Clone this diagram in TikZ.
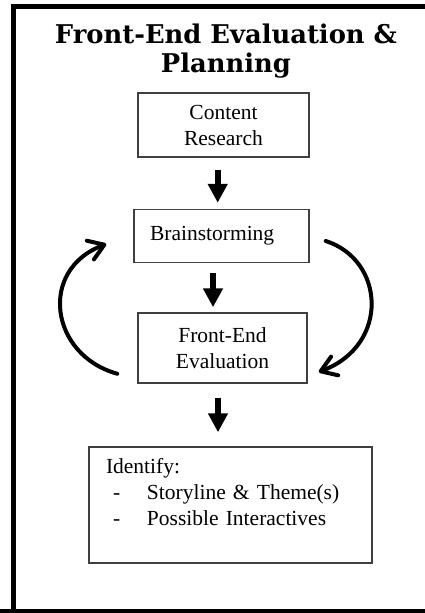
\documentclass[tikz,border=0pt]{standalone}
\usepackage{fontspec}
\setmainfont{Liberation Serif}
\newfontfamily\titlefont{DejaVu Serif}
\usetikzlibrary{arrows.meta,calc}
\begin{document}
\begin{tikzpicture}[x=1pt,y=-1pt,
  box/.style={draw=black!75,line width=1.5pt,inner sep=0pt,font=\fontsize{21.5}{26}\selectfont},
  bigarrow/.style={line width=6pt,-{Triangle[length=19pt,width=19pt]}},
  looparrow/.style={line width=4pt,line cap=round,-{Straight Barb[length=15pt,width=20pt,line cap=round,line join=round]}},
  titletext/.style={font=\titlefont\bfseries\fontsize{25.8}{30}\selectfont,align=center,inner sep=0pt}]
\useasboundingbox (0,0) rectangle (425,613);
\clip (0,0) rectangle (425,613);
\fill[white] (0,0) rectangle (425,613);
% frame
\draw[line width=5pt] (13.5,640) -- (13.5,6.5) -- (440,6.5);
\draw[line width=5pt] (0,611) -- (440,611);
% title
\node[titletext,anchor=base] (t1) at (226,43) {Front-End Evaluation \&};
\node[titletext,anchor=base] (t2) at (226,72) {Planning};
% boxes
\node[box,minimum width=171pt,minimum height=64pt,align=center] (content) at (223.5,125) {Content\\Research};
\node[box,minimum height=53pt,text width=143pt,inner xsep=16pt,align=left] (brain) at (221.5,236) {Brainstorming};
\node[box,minimum width=169pt,minimum height=70pt,align=center] (front) at (222.5,348) {Front-End\\Evaluation};
\node[box,minimum height=116pt,text width=249pt,inner xsep=17pt,align=left] (ident) at (230.5,505)
  {Identify:\\\makebox[41pt][l]{\hspace*{7pt}-}Storyline \& Theme(s)\\\makebox[41pt][l]{\hspace*{7pt}-}Possible Interactives\\\mbox{}};
% straight arrows
\draw[bigarrow] ($(content.south)+(-5.8,12)$) -- ($(brain.north)+(-3.8,-6)$);
\draw[bigarrow] ($(brain.south)+(-8.5,10)$) -- ($(front.north)+(-9.5,-5)$);
\draw[bigarrow] ($(front.south)+(-4.5,14)$) -- ($(ident.north)+(-12.5,-14)$);
% loop arrows
\draw[looparrow] ($(front.south west)+(-20,-10)$) .. controls (50,355) and (38,270) .. ($(brain.west)+(-27,8)$);
\draw[looparrow] ($(brain.east)+(16,5)$) .. controls (385,260) and (390,345) .. ($(front.east)+(11,24)$);
\end{tikzpicture}
\end{document}
